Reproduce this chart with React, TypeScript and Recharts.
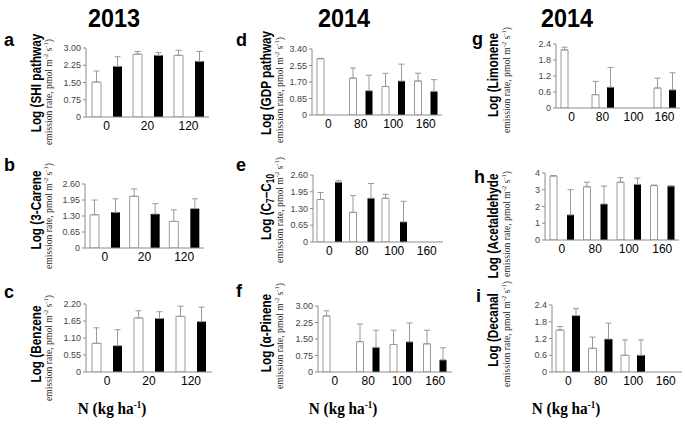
import { Bar, BarChart, ErrorBar, XAxis, YAxis } from 'recharts';

const doses2013 = ['0', '20', '120'];
const doses2014 = ['0', '80', '100', '160'];

// a – SHI pathway (2013)
const shiWhite = [1.52, 2.73, 2.68];
const shiWhiteTop = [2.0, 2.85, 2.9];
const shiBlack = [2.2, 2.68, 2.42];
const shiBlackTop = [2.62, 2.8, 2.85];

// b – 3-Carene (2013)
const careneWhite = [1.35, 2.1, 1.08];
const careneWhiteTop = [1.95, 2.4, 1.55];
const careneBlack = [1.45, 1.38, 1.6];
const careneBlackTop = [2.0, 1.8, 2.0];

// c – Benzene (2013)
const benzeneWhite = [0.93, 1.75, 1.8];
const benzeneWhiteTop = [1.43, 1.98, 2.13];
const benzeneBlack = [0.85, 1.73, 1.63];
const benzeneBlackTop = [1.37, 1.95, 2.1];

// d – GDP pathway (2014)
const gdpWhite = [2.9, 1.9, 1.47, 1.75];
const gdpWhiteTop = [2.92, 2.42, 2.15, 2.15];
const gdpBlack = [null, 1.25, 1.75, 1.22];
const gdpBlackTop = [null, 2.05, 2.62, 1.82];

// e – C7-C10 (2014)
const c7White = [1.65, 1.15, 1.7, null];
const c7WhiteTop = [1.92, 1.8, 1.85, null];
const c7Black = [2.32, 1.7, 0.78, null];
const c7BlackTop = [2.38, 2.27, 1.58, null];

// f – alpha-Pinene (2014)
const pineneWhite = [2.55, 1.38, 1.25, 1.28];
const pineneWhiteTop = [2.78, 2.18, 1.9, 1.9];
const pineneBlack = [null, 1.12, 1.37, 0.55];
const pineneBlackTop = [null, 1.9, 2.23, 1.1];

// g – Limonene (2014)
const limoneneWhite = [2.18, 0.5, null, 0.75];
const limoneneWhiteTop = [2.28, 1.0, null, 1.12];
const limoneneBlack = [null, 0.78, null, 0.68];
const limoneneBlackTop = [null, 1.52, null, 1.32];

// h – Acetaldehyde (2014)
const acetWhite = [3.82, 3.18, 3.45, 3.25];
const acetWhiteTop = [3.85, 3.45, 3.72, 3.28];
const acetBlack = [1.5, 2.15, 3.32, 3.22];
const acetBlackTop = [3.0, 3.22, 3.7, 3.25];

// i – Decanal (2014)
const decanalWhite = [1.5, 0.85, 0.6, null];
const decanalWhiteTop = [1.63, 1.25, 1.15, null];
const decanalBlack = [2.02, 1.18, 0.6, null];
const decanalBlackTop = [2.27, 1.75, 1.15, null];

type V = number | null;

const rows = (cats: string[], w: V[], wt: V[], b: V[], bt: V[]) =>
  cats.map((n, i) => ({
    n,
    w: w[i],
    b: b[i],
    we: w[i] != null && wt[i] != null ? [0, (wt[i] as number) - (w[i] as number)] : undefined,
    be: b[i] != null && bt[i] != null ? [0, (bt[i] as number) - (b[i] as number)] : undefined,
  }));

interface PanelProps {
  data: ReturnType<typeof rows>;
  x0: number;
  x1: number;
  top: number;
  bot: number;
  max: number;
  ticks: number[];
  digits: number;
  barSize: number;
  barGap: number;
}

const YW = 40;
const MT = 6;
const XH = 24;

const Panel = ({ data, x0, x1, top, bot, max, ticks, digits, barSize, barGap }: PanelProps) => (
  <div style={{ position: 'absolute', left: x0 - YW, top: top - MT }}>
    <BarChart
      width={x1 - x0 + YW + 2}
      height={bot - top + MT + XH}
      data={data}
      margin={{ top: MT, right: 2, left: 0, bottom: 0 }}
      barSize={barSize}
      barGap={barGap}
    >
      <XAxis
        dataKey="n"
        height={XH}
        tickLine={false}
        tickSize={2}
        axisLine={{ stroke: '#8c8c8c' }}
        tick={{ fontSize: 12, fill: '#000', fontFamily: 'Arial' }}
        interval={0}
      />
      <YAxis
        width={YW}
        domain={[0, max]}
        ticks={ticks}
        tickSize={3}
        tickMargin={2}
        axisLine={{ stroke: '#8c8c8c' }}
        tickLine={{ stroke: '#8c8c8c' }}
        tick={{ fontSize: 9, fill: '#444', fontFamily: 'Arial' }}
        tickFormatter={(v: number) => (v === 0 ? '0' : v.toFixed(digits))}
        allowDataOverflow
      />
      <Bar dataKey="w" fill="#fff" stroke="#9a9a9a" strokeWidth={1} isAnimationActive={false}>
        <ErrorBar dataKey="we" width={3} stroke="#9a9a9a" strokeWidth={1} direction="y" />
      </Bar>
      <Bar dataKey="b" fill="#000" isAnimationActive={false}>
        <ErrorBar dataKey="be" width={3} stroke="#9a9a9a" strokeWidth={1} direction="y" />
      </Bar>
    </BarChart>
  </div>
);

const YLabel = ({ x, sx, y, sy, children }: { x: number; sx: number; y: number; sy: number; children: any }) => (
  <g>
    <text
      transform={`translate(${x},${y}) rotate(-90) scale(0.84,1)`}
      textAnchor="middle"
      fontFamily="Arial"
      fontWeight="bold"
      fontSize={14}
    >
      {children}
    </text>
    <text
      transform={`translate(${sx},${sy}) rotate(-90) scale(0.92,1)`}
      textAnchor="middle"
      fontFamily="Liberation Serif"
      fontSize={10.5}
      fill="#222"
    >
      emission rate, pmol m
      <tspan dy={-4} fontSize={7}>
        -2
      </tspan>
      <tspan dy={4}> s</tspan>
      <tspan dy={-4} fontSize={7}>
        -1
      </tspan>
      <tspan dy={4}>)</tspan>
    </text>
  </g>
);

const Letter = ({ x, y, c }: { x: number; y: number; c: string }) => (
  <text x={x} y={y} fontFamily="Arial" fontWeight="bold" fontSize={18}>
    {c}
  </text>
);

const Title = ({ x, label }: { x: number; label: string }) => (
  <text
    transform={`translate(${x},27) scale(0.9,1)`}
    textAnchor="middle"
    fontFamily="Arial"
    fontWeight="bold"
    fontSize={26}
  >
    {label}
  </text>
);

const NLabel = ({ x }: { x: number }) => (
  <text
    transform={`translate(${x},414) scale(0.9,1)`}
    textAnchor="middle"
    fontFamily="Liberation Serif"
    fontWeight="bold"
    fontSize={17}
  >
    N (kg ha
    <tspan dy={-6} fontSize={10}>
      -1
    </tspan>
    <tspan dy={6}>)</tspan>
  </text>
);

const App = () => (
  <div style={{ position: 'absolute', left: 0, top: 0, width: 685, height: 429, background: '#fff' }}>
    <Panel data={rows(doses2013, shiWhite, shiWhiteTop, shiBlack, shiBlackTop)}
      x0={86} x1={209} top={48} bot={117} max={3} ticks={[0, 0.75, 1.5, 2.25, 3]} digits={2} barSize={9} barGap={12} />
    <Panel data={rows(doses2013, careneWhite, careneWhiteTop, careneBlack, careneBlackTop)}
      x0={85} x1={204} top={184} bot={248} max={2.6} ticks={[0, 0.65, 1.3, 1.95, 2.6]} digits={2} barSize={9} barGap={12} />
    <Panel data={rows(doses2013, benzeneWhite, benzeneWhiteTop, benzeneBlack, benzeneBlackTop)}
      x0={86} x1={212} top={304} bot={372} max={2.2} ticks={[0, 0.55, 1.1, 1.65, 2.2]} digits={2} barSize={9} barGap={12} />

    <Panel data={rows(doses2014, gdpWhite, gdpWhiteTop, gdpBlack, gdpBlackTop)}
      x0={312} x1={442} top={49} bot={115} max={3.4} ticks={[0, 0.85, 1.7, 2.55, 3.4]} digits={2} barSize={7} barGap={9} />
    <Panel data={rows(doses2014, c7White, c7WhiteTop, c7Black, c7BlackTop)}
      x0={313} x1={443} top={175} bot={242} max={2.6} ticks={[0, 0.65, 1.3, 1.95, 2.6]} digits={2} barSize={7} barGap={11} />
    <Panel data={rows(doses2014, pineneWhite, pineneWhiteTop, pineneBlack, pineneBlackTop)}
      x0={318} x1={452} top={306} bot={372} max={3} ticks={[0, 0.75, 1.5, 2.25, 3]} digits={2} barSize={7} barGap={9} />

    <Panel data={rows(doses2014, limoneneWhite, limoneneWhiteTop, limoneneBlack, limoneneBlackTop)}
      x0={556} x1={680} top={44} bot={108} max={2.4} ticks={[0, 0.6, 1.2, 1.8, 2.4]} digits={1} barSize={7} barGap={8} />
    <Panel data={rows(doses2014, acetWhite, acetWhiteTop, acetBlack, acetBlackTop)}
      x0={545} x1={679} top={173} bot={240} max={4} ticks={[0, 1, 2, 3, 4]} digits={0} barSize={7} barGap={10} />
    <Panel data={rows(doses2014, decanalWhite, decanalWhiteTop, decanalBlack, decanalBlackTop)}
      x0={552} x1={682} top={305} bot={372} max={2.4} ticks={[0, 0.6, 1.2, 1.8, 2.4]} digits={1} barSize={8} barGap={8} />

    <svg width={685} height={429} style={{ position: 'absolute', left: 0, top: 0, pointerEvents: 'none' }}>
      <Title x={114} label="2013" />
      <Title x={344} label="2014" />
      <Title x={567} label="2014" />

      <Letter x={4} y={46} c="a" />
      <Letter x={4} y={171} c="b" />
      <Letter x={4} y={298} c="c" />
      <Letter x={236} y={46} c="d" />
      <Letter x={236} y={171} c="e" />
      <Letter x={236} y={297} c="f" />
      <Letter x={472} y={45} c="g" />
      <Letter x={474} y={183} c="h" />
      <Letter x={476} y={302} c="i" />

      <YLabel x={41} sx={52} y={83} sy={92}>Log (SHI pathway</YLabel>
      <YLabel x={41} sx={52} y={210} sy={216}>Log (3-Carene</YLabel>
      <YLabel x={41} sx={52} y={344} sy={348}>Log (Benzene</YLabel>
      <YLabel x={271} sx={283} y={83} sy={90}>Log (GDP pathway</YLabel>
      <YLabel x={271} sx={283} y={207} sy={210}>
        Log (C<tspan dy={3} fontSize={10}>7</tspan>
        <tspan dy={-3}>–C</tspan>
        <tspan dy={3} fontSize={10}>10</tspan>
      </YLabel>
      <YLabel x={271} sx={283} y={333} sy={336}>Log (α-Pinene</YLabel>
      <YLabel x={498} sx={510} y={75} sy={80}>Log (Limonene</YLabel>
      <YLabel x={498} sx={510} y={226} sy={224}>Log (Acetaldehyde</YLabel>
      <YLabel x={498} sx={510} y={330} sy={334}>Log (Decanal</YLabel>

      <NLabel x={112} />
      <NLabel x={343} />
      <NLabel x={566} />
    </svg>
  </div>
);

export default App;
